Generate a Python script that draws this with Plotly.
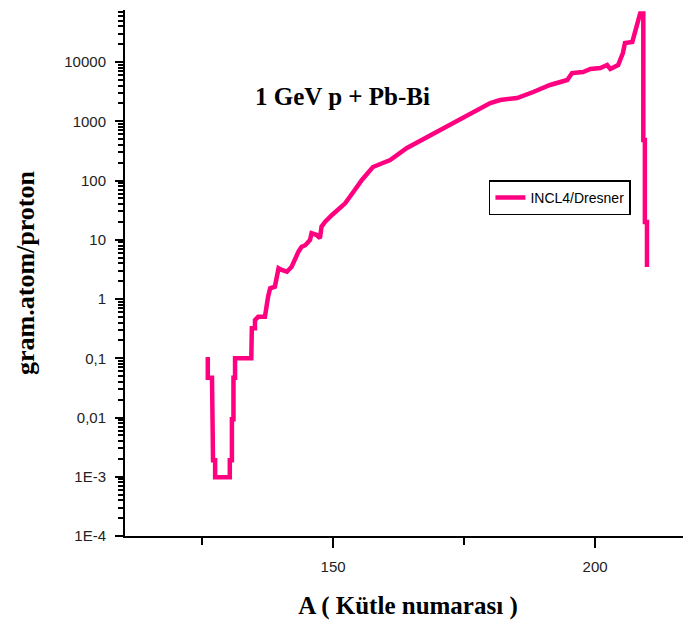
import plotly.graph_objects as go

# Data (mass number A, yield gram.atom/proton)
mass_A = [126.1, 126.1, 126.9, 126.9, 127.1, 127.1, 127.5, 127.5, 130.3, 130.3,
          130.7, 130.7, 131.0, 131.0, 131.3, 131.3, 134.4, 134.5, 135.1, 135.1,
          135.7, 137.0, 137.6, 138.0, 138.9, 139.6, 140.2, 141.2, 142.1, 142.8,
          143.4, 144.0, 144.7, 145.6, 145.9, 146.9, 147.5, 147.8, 148.5, 149.8,
          151.0, 152.3, 153.9, 155.5, 157.6, 160.9, 164.1, 167.9, 170.4, 173.7,
          176.7, 180.0, 181.9, 185.1, 188.2, 191.4, 194.7, 195.6, 197.7, 199.1,
          201.0, 202.3, 202.9, 204.4, 205.3, 205.7, 207.1, 207.6, 208.0, 208.6,
          209.2, 209.2, 209.2, 209.5, 209.5, 209.9, 209.9]
yield_vals = [0.105, 0.047, 0.047, 0.0093, 0.0093, 0.0019, 0.0019, 0.00098, 0.00098, 0.0019,
              0.0019, 0.0093, 0.0093, 0.047, 0.047, 0.1, 0.1, 0.32, 0.32, 0.44,
              0.5, 0.5, 1.09, 1.52, 1.61, 3.3, 3.09, 2.89, 3.51, 4.86,
              6.3, 7.6, 8.1, 9.9, 12.9, 12.0, 10.6, 16.6, 20.2, 26.2,
              31.8, 41.2, 64.7, 102, 169, 222, 354, 542, 712, 1050,
              1432, 2032, 2285, 2466, 3119, 4093, 4970, 6520, 6780, 7620,
              7920, 8900, 7620, 8900, 14200, 20900, 21800, 30800, 42200, 66000,
              66000, 12100, 483, 483, 19.9, 19.9, 3.47]

series_name = "INCL4/Dresner"
y_tick_vals = [1e-4, 1e-3, 1e-2, 1e-1, 1, 10, 100, 1000, 10000]
y_tick_text = ["1E-4", "1E-3", "0,01", "0,1", "1", "10", "100", "1000", "10000"]
x_tick_vals = [150, 200]
x_minor_vals = [125, 175]

y_minor_vals = [m * 10.0 ** e for e in range(-4, 5) for m in range(2, 10)]

fig = go.Figure()
fig.add_trace(go.Scatter(
    x=mass_A, y=yield_vals, mode="lines", name=series_name,
    line=dict(color="#FF0080", width=4.5),
))

# page body has an 8px margin, so margins are offset by 8px
fig.update_layout(
    width=691, height=625,
    margin=dict(l=117, r=8, t=2, b=97),
    paper_bgcolor="white", plot_bgcolor="white",
    showlegend=True,
    legend=dict(
        x=0.643, y=0.676, xanchor="left", yanchor="top",
        bordercolor="black", borderwidth=1.5, bgcolor="white",
        font=dict(family="Liberation Sans, Arial", size=14, color="black"),
        itemwidth=30, tracegroupgap=0,
    ),
    annotations=[dict(
        text="<b>1 GeV p + Pb-Bi</b>", xref="paper", yref="paper",
        x=0.385, y=0.835, xanchor="center", yanchor="middle", showarrow=False,
        font=dict(family="Liberation Serif, Times New Roman", size=25, color="black"),
    )],
)

fig.update_xaxes(
    range=[110.3, 218.3], showgrid=False, zeroline=False, automargin=False,
    showline=True, linecolor="black", linewidth=2,
    tickmode="array", tickvals=x_tick_vals, ticktext=["150", "200"],
    ticks="outside", ticklen=10, tickwidth=2, tickcolor="black",
    ticklabelstandoff=6,
    minor=dict(tickmode="array", tickvals=x_minor_vals, ticks="outside",
               ticklen=7, tickwidth=2, tickcolor="black"),
    tickfont=dict(family="Liberation Sans, Arial", size=15, color="#222222"),
    title=dict(text="<b>A ( Kütle numarası )</b>", standoff=22,
               font=dict(family="Liberation Serif, Times New Roman", size=25, color="black")),
)

fig.update_yaxes(
    type="log", range=[-4, 4.878], showgrid=False, zeroline=False, automargin=False,
    showline=True, linecolor="black", linewidth=2,
    tickmode="array", tickvals=y_tick_vals, ticktext=y_tick_text,
    ticks="outside", ticklen=8, tickwidth=2, tickcolor="black",
    ticklabelstandoff=6,
    minor=dict(tickmode="array", tickvals=y_minor_vals, ticks="outside",
               ticklen=5, tickwidth=1.5, tickcolor="black"),
    tickfont=dict(family="Liberation Sans, Arial", size=15, color="#222222"),
    title=dict(text="<b>gram.atom/proton</b>", standoff=22,
               font=dict(family="Liberation Serif, Times New Roman", size=26, color="black")),
)

fig.write_html("out.html")
